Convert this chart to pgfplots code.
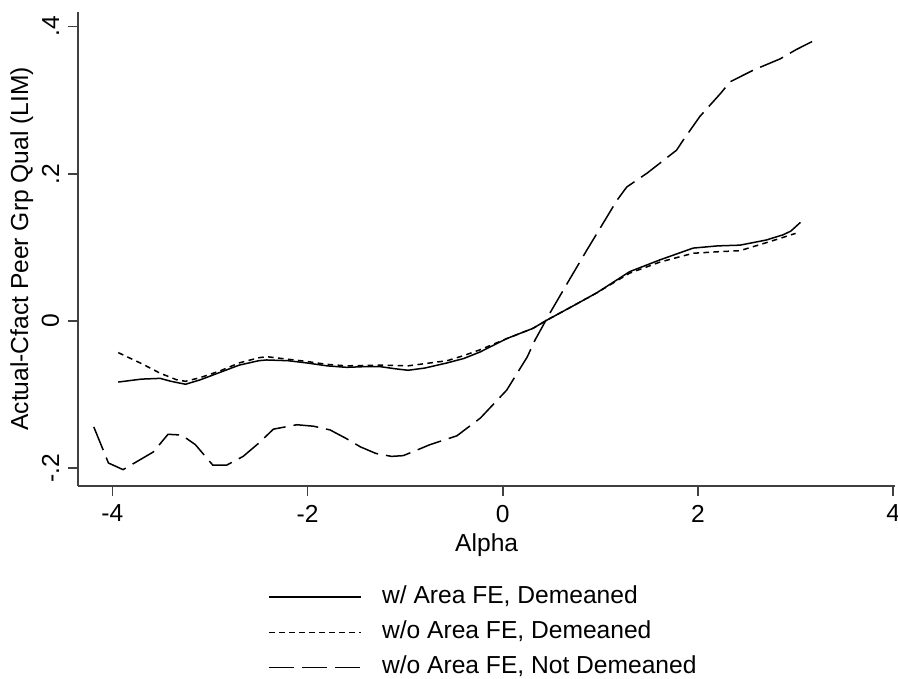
\documentclass[border=0pt]{standalone}
\usepackage{pgfplots}
\pgfplotsset{compat=1.18}
\usepackage{fontspec}
\setmainfont{Liberation Sans}
\begin{document}
\begin{tikzpicture}[font=\fontsize{12.3bp}{14bp}\selectfont]
\begin{axis}[
 scale only axis, width=408.5bp, height=237bp,
 xmin=-4.35, xmax=4.02, ymin=-0.224, ymax=0.42,
 axis x line=bottom, axis y line=left,
 axis line style={-, draw=black!75, line width=0.8bp},
 tick style={draw=black!75, line width=0.8bp},
 tick align=outside, major tick length=5bp,
 xtick={-4,-2,0,2,4}, xticklabels={-4,-2,0,2,4},
 ytick={-0.2,0,0.2,0.4}, yticklabels={-.2,0,.2,.4},
 yticklabel style={rotate=90, anchor=south},
 yticklabel shift=1bp, xticklabel shift=1bp,
 xlabel={Alpha}, ylabel={Actual-Cfact Peer Grp Qual (LIM)},
 ylabel style={at={(axis description cs:-0.0612,0.5)}, anchor=base},
 xlabel style={at={(axis description cs:0.5,0)}, anchor=center, yshift=-29.5bp},
 legend cell align=left,
 legend style={at={(0.495,0)}, anchor=north, yshift=-47.5bp, draw=none, fill=none,
   nodes={inner sep=0pt, text height=9bp, text depth=3bp}, row sep=5.6bp, column sep=10bp},
 legend image code/.code={\draw[#1] (0bp,0bp) -- (46bp,0bp);},
 clip=false,
]
\coordinate (bl) at (axis cs:-5.151,-0.4864);
\coordinate (tr) at (axis cs:4.049,0.4361);
\addplot[black, line width=0.75bp] coordinates {
(-3.94,-0.083) (-3.70,-0.079) (-3.51,-0.078) (-3.40,-0.082) (-3.25,-0.086) (-3.10,-0.080)
(-2.90,-0.070) (-2.70,-0.060) (-2.50,-0.054) (-2.42,-0.053) (-2.20,-0.054) (-2.01,-0.057)
(-1.80,-0.061) (-1.60,-0.063) (-1.40,-0.062) (-1.26,-0.062) (-1.10,-0.065) (-0.97,-0.067)
(-0.80,-0.064) (-0.57,-0.057) (-0.40,-0.051) (-0.23,-0.042) (0.04,-0.024) (0.31,-0.010)
(0.45,0.001) (0.70,0.019) (0.96,0.038) (1.30,0.067) (1.61,0.083) (1.95,0.099) (2.20,0.102)
(2.43,0.103) (2.70,0.110) (2.87,0.117) (2.95,0.122) (3.05,0.134)
};
\addlegendentry{w/ Area FE, Demeaned}
\addplot[black, line width=0.75bp, dash pattern=on 2.8bp off 2.2bp] coordinates {
(-3.94,-0.043) (-3.70,-0.058) (-3.51,-0.071) (-3.34,-0.080) (-3.25,-0.082) (-3.10,-0.077)
(-2.90,-0.068) (-2.70,-0.057) (-2.50,-0.050) (-2.42,-0.0485) (-2.20,-0.052) (-2.01,-0.055)
(-1.80,-0.059) (-1.60,-0.061) (-1.26,-0.060) (-0.97,-0.061) (-0.80,-0.058) (-0.57,-0.054)
(-0.40,-0.047) (-0.23,-0.039) (0.04,-0.024) (0.31,-0.010) (0.45,0.001) (0.70,0.019)
(0.96,0.038) (1.30,0.065) (1.61,0.080) (1.95,0.092) (2.20,0.094) (2.43,0.0955) (2.74,0.108)
(3.00,0.119)
};
\addlegendentry{w/o Area FE, Demeaned}
\addplot[black, line width=0.75bp, dash pattern=on 12.5bp off 4bp] coordinates {
(-4.19,-0.144) (-4.04,-0.193) (-3.89,-0.202) (-3.58,-0.178) (-3.43,-0.154) (-3.29,-0.155)
(-3.15,-0.168) (-2.97,-0.196) (-2.83,-0.196) (-2.66,-0.184) (-2.50,-0.166) (-2.35,-0.147)
(-2.11,-0.141) (-1.94,-0.143) (-1.77,-0.148) (-1.60,-0.160) (-1.46,-0.171) (-1.30,-0.180)
(-1.14,-0.184) (-1.02,-0.183) (-0.89,-0.176) (-0.745,-0.168) (-0.47,-0.156) (-0.23,-0.132)
(0.04,-0.094) (0.25,-0.049) (0.33,-0.026) (0.48,0.010) (0.66,0.051) (0.86,0.096)
(1.07,0.142) (1.17,0.164) (1.27,0.182) (1.48,0.201) (1.78,0.232) (1.85,0.246) (2.02,0.278)
(2.23,0.309) (2.33,0.325) (2.57,0.341) (2.84,0.356) (3.01,0.369) (3.22,0.383)
};
\addlegendentry{w/o Area FE, Not Demeaned}
\end{axis}
\pgfresetboundingbox
\path (bl) rectangle (tr);
\end{tikzpicture}
\end{document}
